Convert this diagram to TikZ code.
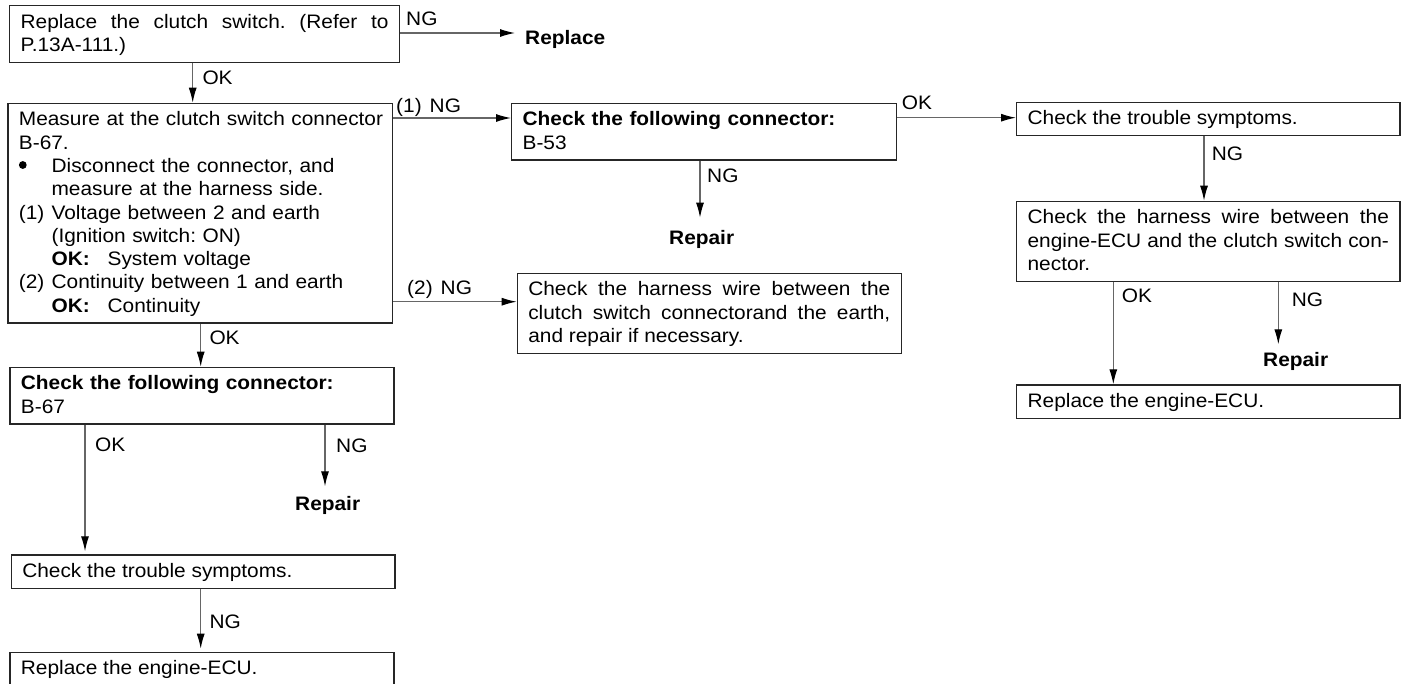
\documentclass[tikz,border=0pt]{standalone}
\usepackage{fontspec}
\setmainfont{Liberation Sans}[FakeStretch=1.07]
\usetikzlibrary{arrows.meta}
\frenchspacing
\hyphenpenalty=10000
\newcommand\stt{\rule[-5.8pt]{0pt}{23.3pt}}
\newcommand\ind{\hspace*{32.7pt}}
\newcommand\okk[1]{\makebox[56pt][l]{\textbf{#1}}}
\tikzset{
  fnt/.style={font=\fontsize{19.5}{23.3}\selectfont},
  box/.style={fnt, draw=black!85, line width=1.2pt, rectangle, anchor=north west,
    inner xsep=11pt, inner ysep=5pt, align=justify},
  boxl/.style={box, align=left},
  lbl/.style={fnt, anchor=base west, inner sep=0pt},
  term/.style={fnt, anchor=base west, inner sep=0pt, font=\fontsize{19.5}{23.3}\selectfont\bfseries},
  arr/.style={draw=black!60, line width=1.2pt, -{Latex[length=15pt,width=8pt,fill=black,color=black]}},
}
\begin{document}
\begin{tikzpicture}[x=1pt,y=-1pt]
\useasboundingbox (0,0) rectangle (1407,683);

% boxes
\node[box, text width=368pt] (b1) at (9,5)
  {\stt Replace the clutch switch. (Refer to\linebreak P.13A-111.)\stt};
\node[boxl, text width=362.4pt] (b2) at (7.3,102.7)
  {\stt\mbox{Measure at the clutch switch connector}\\
   B-67.\\
   \ind Disconnect the connector, and\\
   \ind measure at the harness side.\\
   \makebox[32.7pt][l]{(1)}Voltage between 2 and earth\\
   \ind (Ignition switch: ON)\\
   \ind\okk{OK:}System voltage\\
   \makebox[32.7pt][l]{(2)}Continuity between 1 and earth\\
   \ind\okk{OK:}Continuity\stt};
\fill ([xshift=15.5pt,yshift=-62.3pt]b2.north west) circle (3.9pt);
\node[boxl, text width=363pt] (b3) at (511,102.7)
  {\stt\textbf{Check the following connector:}\\ B-53\stt};
\node[box, text width=362pt] (b4) at (516.7,272.7)
  {\stt Check the harness wire between the\linebreak clutch switch connectorand the earth,\linebreak and repair if necessary.\stt};
\node[box, text width=361.3pt] (b5) at (1016,101.7)
  {\stt Check the trouble symptoms.\stt};
\node[box, text width=361.3pt] (b6) at (1016,200.7)
  {\stt Check the harness wire between the\linebreak engine-ECU and the clutch switch con-\linebreak nector.\stt};
\node[box, text width=361.3pt] (b7) at (1016,384.3)
  {\stt Replace the engine-ECU.\stt};
\node[boxl, text width=362pt] (b8) at (9.3,366.7)
  {\stt\textbf{Check the following connector:}\\ B-67\stt};
\node[box, text width=361.6pt] (b9) at (10.7,554.3)
  {\stt Check the trouble symptoms.\stt};
\node[box, text width=362pt] (b10) at (9.3,651.7)
  {\stt Replace the engine-ECU.\stt};

% terminal texts
\node[term] (rp0) at (525,44.3) {Replace};
\node[term] (rp1) at (669,244) {Repair};
\node[term] (rp2) at (1263,366.7) {Repair};
\node[term] (rp3) at (295,510.7) {Repair};

% labels
\node[lbl] (l1) at (406,25) {NG};
\node[lbl] (l2) at (202.3,84.3) {OK};
\node[lbl] (l3) at (396,112.3) {(1)\hspace{8pt}NG};
\node[lbl] (l4) at (407,294) {(2)\hspace{8pt}NG};
\node[lbl] (l5) at (707,182.7) {NG};
\node[lbl] (l6) at (901.7,109) {OK};
\node[lbl] (l7) at (1211.7,160.7) {NG};
\node[lbl] (l8) at (1121.7,302) {OK};
\node[lbl] (l9) at (1291.7,306) {NG};
\node[lbl] (l10) at (209.3,344) {OK};
\node[lbl] (l11) at (95,451.7) {OK};
\node[lbl] (l12) at (336,452.7) {NG};
\node[lbl] (l13) at (209.3,628.3) {NG};

% connectors
\draw[arr] ([yshift=-28pt]b1.north east) coordinate (c1) -- ([xshift=-10pt]rp0.west |- c1);
\draw[arr] ([xshift=183.7pt]b1.south west) -- ([xshift=185.4pt]b2.north west);
\draw[arr] ([yshift=-15.3pt]b2.north east) coordinate (c2) -- (b3.west |- c2);
\draw[arr] ([yshift=-199pt]b2.north east) coordinate (c3) -- (b4.west |- c3);
\draw[arr] ([xshift=189pt]b3.south west) coordinate (c4) -- ([yshift=12pt]c4 |- rp1.north);
\draw[arr] ([yshift=-15pt]b3.north east) coordinate (c5) -- (b5.west |- c5);
\draw[arr] ([xshift=188pt]b5.south west) coordinate (c6) -- (c6 |- b6.north);
\draw[arr] ([xshift=97.3pt]b6.south west) coordinate (c7) -- (c7 |- b7.north);
\draw[arr] ([xshift=262.3pt]b6.south west) coordinate (c8) -- ([yshift=8pt]c8 |- rp2.north);
\draw[arr] ([xshift=193.4pt]b2.south west) coordinate (c9) -- (c9 |- b8.north);
\draw[arr] ([xshift=75.7pt]b8.south west) coordinate (c10) -- ([yshift=3pt]c10 |- b9.north);
\draw[arr] ([xshift=315.7pt]b8.south west) coordinate (c11) -- ([yshift=10pt]c11 |- rp3.north);
\draw[arr] ([xshift=190pt]b9.south west) coordinate (c12) -- ([yshift=3pt]c12 |- b10.north);
\end{tikzpicture}
\end{document}
